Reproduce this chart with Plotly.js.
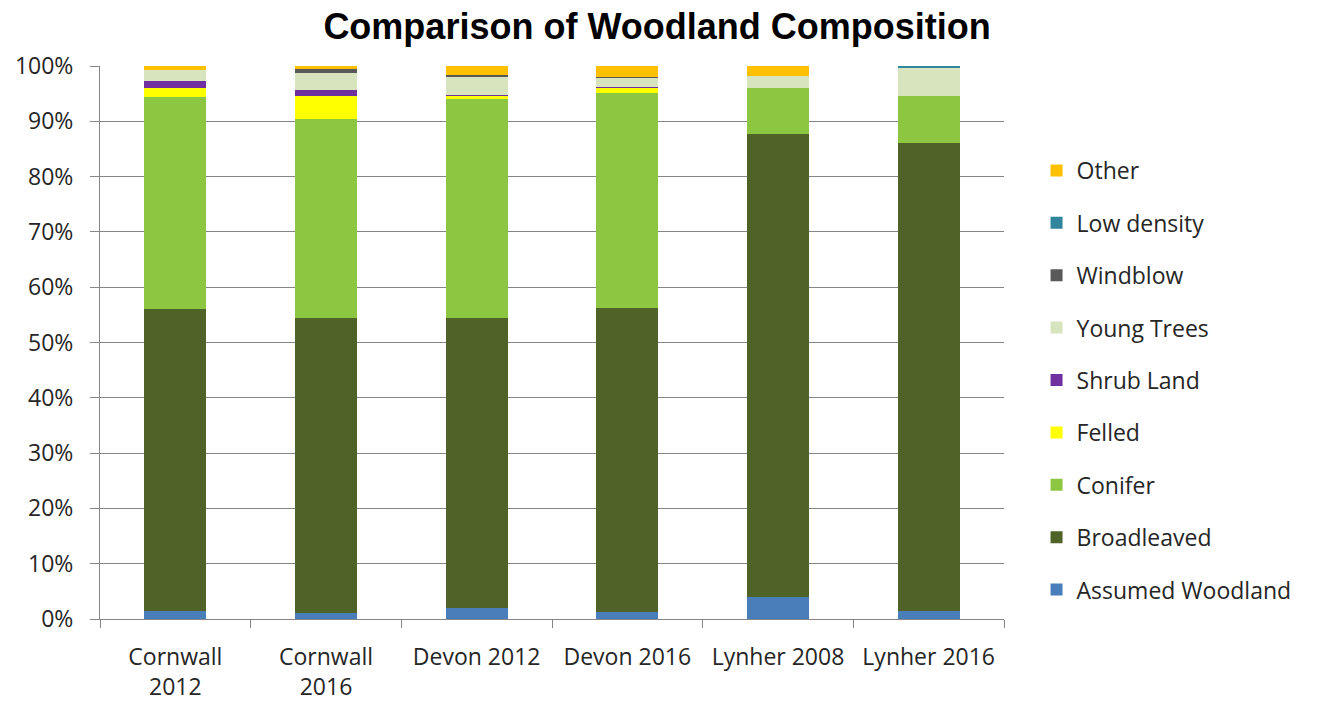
<!DOCTYPE html>
<html>
<head>
<meta charset="utf-8">
<script src="https://cdn.plot.ly/plotly-3.0.1.min.js"></script>
<style>html,body{margin:0;padding:0;background:#fff;}#chart{width:1322px;height:704px;}</style>
</head>
<body>
<div id="chart"></div>
<script>
// Categories (tick labels)
const categories = ["Cornwall<br>2012", "Cornwall<br>2016", "Devon 2012", "Devon 2016", "Lynher 2008", "Lynher 2016"];

// Series values (percent of woodland)
const assumedWoodland = [1.5, 1.0, 2.0, 1.2, 4.0, 1.5];
const broadleaved     = [54.6, 53.4, 52.4, 55.0, 83.7, 84.5];
const conifer         = [38.3, 36.0, 39.7, 38.9, 8.3, 8.6];
const felled          = [1.6, 4.2, 0.5, 0.9, 0, 0];
const shrubLand       = [1.2, 1.1, 0.2, 0.2, 0, 0];
const youngTrees      = [2.0, 3.1, 3.3, 1.6, 2.2, 5.1];
const windblow        = [0, 0.6, 0.2, 0.2, 0, 0];
const lowDensity      = [0, 0, 0, 0, 0, 0.3];
const other           = [0.8, 0.6, 1.7, 2.0, 1.8, 0];

const seriesNames = ["Assumed Woodland", "Broadleaved", "Conifer", "Felled", "Shrub Land", "Young Trees", "Windblow", "Low density", "Other"];
const seriesValues = [assumedWoodland, broadleaved, conifer, felled, shrubLand, youngTrees, windblow, lowDensity, other];
const seriesColors = ["#4a7ebb", "#4f6228", "#8dc641", "#ffff00", "#7030a0", "#d7e4bd", "#595959", "#31859c", "#ffc000"];

const traces = seriesNames.map((name, i) => ({
  type: "bar",
  name: name,
  x: categories,
  y: seriesValues[i],
  marker: {color: seriesColors[i], line: {width: 0}},
  width: 0.41,
  legendgroup: "g" + i,
  legendrank: 100 * (seriesNames.length - i),
  hoverinfo: "name+y"
}));

const layout = {
  width: 1322,
  height: 704,
  barmode: "stack",
  paper_bgcolor: "#ffffff",
  plot_bgcolor: "#ffffff",
  margin: {l: 100, r: 318, t: 66, b: 85},
  title: {
    text: "<b>Comparison of Woodland Composition</b>",
    font: {family: "Liberation Sans, Arial, sans-serif", size: 36, color: "#000000"},
    x: 0.497, xanchor: "center", y: 0.962, yanchor: "middle"
  },
  font: {family: "Open Sans, sans-serif", size: 23, color: "#262626"},
  xaxis: {
    type: "category",
    tickson: "boundaries",
    ticks: "outside",
    ticklen: 8,
    tickcolor: "#868686",
    showline: true,
    linecolor: "#868686",
    linewidth: 1,
    showgrid: false,
    ticklabelstandoff: 17,
    tickfont: {family: "Open Sans, sans-serif", size: 23, color: "#262626"},
    automargin: false
  },
  yaxis: {
    range: [0, 100],
    dtick: 10,
    ticksuffix: "%",
    ticks: "outside",
    ticklen: 9,
    tickcolor: "#868686",
    showline: true,
    linecolor: "#868686",
    linewidth: 1,
    showgrid: true,
    gridcolor: "#868686",
    gridwidth: 1,
    zeroline: false,
    ticklabelstandoff: 12,
    tickfont: {family: "Open Sans, sans-serif", size: 23, color: "#262626"},
    automargin: false
  },
  legend: {
    x: 1.036, xanchor: "left",
    y: 0.85, yanchor: "top",
    traceorder: "grouped",
    tracegroupgap: 19.5,
    font: {family: "Open Sans, sans-serif", size: 23, color: "#262626"},
    itemwidth: 30
  },
  showlegend: true
};

Plotly.newPlot("chart", traces, layout, {displayModeBar: false, staticPlot: true});
</script>
</body>
</html>
